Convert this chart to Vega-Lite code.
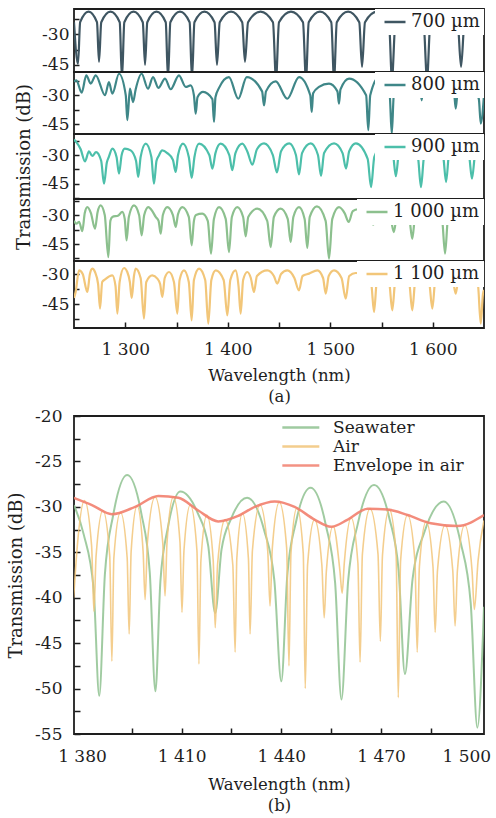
{
"$schema": "https://vega.github.io/schema/vega-lite/v6.json",
"background": "white",
"padding": {"left": 6, "top": 8, "right": 0, "bottom": 0},
"config": {
  "font": "DejaVu Serif",
  "view": {"stroke": "#1e1e1e", "strokeWidth": 1.8},
  "axis": {"labelFont": "DejaVu Serif", "titleFont": "DejaVu Serif", "labelColor": "#1e1e1e", "titleColor": "#1e1e1e", "tickColor": "#1e1e1e", "tickWidth": 1.5, "grid": false, "domain": false, "titleFontWeight": "normal", "labelFontSize": 17, "titleFontSize": 16.5, "labelFlush": false},
  "legend": {"labelFont": "DejaVu Serif", "labelColor": "#1e1e1e", "labelFontSize": 18, "labelFontWeight": "normal", "symbolType": "M-1,0H5", "symbolStrokeWidth": 2.5}
},
"datasets": {
"top": [
{"s":"700 µm","x":1250,"y":-24},{"s":"700 µm","x":1253.9,"y":-44.5},{"s":"700 µm","x":1256,"y":-24},{"s":"700 µm","x":1264.2,"y":-18.8},{"s":"700 µm","x":1272.4,"y":-24},{"s":"700 µm","x":1274.4,"y":-43.5},{"s":"700 µm","x":1276.6,"y":-24},{"s":"700 µm","x":1285.6,"y":-18.8},{"s":"700 µm","x":1294.6,"y":-24},{"s":"700 µm","x":1296.8,"y":-52},{"s":"700 µm","x":1299.1,"y":-24},{"s":"700 µm","x":1308.1,"y":-18.8},{"s":"700 µm","x":1317.1,"y":-24},{"s":"700 µm","x":1319.3,"y":-45},{"s":"700 µm","x":1321.5,"y":-24},{"s":"700 µm","x":1330.5,"y":-18.8},{"s":"700 µm","x":1339.5,"y":-24},{"s":"700 µm","x":1341.7,"y":-52},{"s":"700 µm","x":1344,"y":-24},{"s":"700 µm","x":1353.4,"y":-18.8},{"s":"700 µm","x":1362.8,"y":-24},{"s":"700 µm","x":1365.1,"y":-52},{"s":"700 µm","x":1367.5,"y":-24},{"s":"700 µm","x":1377.3,"y":-18.8},{"s":"700 µm","x":1387.1,"y":-24},{"s":"700 µm","x":1389.5,"y":-45},{"s":"700 µm","x":1392.2,"y":-24},{"s":"700 µm","x":1403.2,"y":-18.8},{"s":"700 µm","x":1414.1,"y":-24},{"s":"700 µm","x":1416.8,"y":-43.5},{"s":"700 µm","x":1419.8,"y":-24},{"s":"700 µm","x":1432,"y":-18.8},{"s":"700 µm","x":1444.1,"y":-24},{"s":"700 µm","x":1447.1,"y":-52},{"s":"700 µm","x":1450,"y":-24},{"s":"700 µm","x":1461.7,"y":-18.8},{"s":"700 µm","x":1473.4,"y":-24},{"s":"700 µm","x":1476.3,"y":-52},{"s":"700 µm","x":1479,"y":-24},{"s":"700 µm","x":1490,"y":-18.8},{"s":"700 µm","x":1501,"y":-24},{"s":"700 µm","x":1503.7,"y":-52},{"s":"700 µm","x":1506.4,"y":-24},{"s":"700 µm","x":1517.4,"y":-18.8},{"s":"700 µm","x":1528.3,"y":-24},{"s":"700 µm","x":1531,"y":-46},{"s":"700 µm","x":1533.9,"y":-24},{"s":"700 µm","x":1545.6,"y":-18.8},{"s":"700 µm","x":1557.3,"y":-24},{"s":"700 µm","x":1560.2,"y":-52},{"s":"700 µm","x":1563.6,"y":-24},{"s":"700 µm","x":1577.3,"y":-18.8},{"s":"700 µm","x":1591,"y":-24},{"s":"700 µm","x":1594.4,"y":-52},{"s":"700 µm","x":1597.7,"y":-24},{"s":"700 µm","x":1611,"y":-18.8},{"s":"700 µm","x":1624.3,"y":-24},{"s":"700 µm","x":1627.6,"y":-46},{"s":"700 µm","x":1631,"y":-24},{"s":"700 µm","x":1645,"y":-18.8},{"s":"700 µm","x":1650,"y":-19.5},
{"s":"800 µm","x":1250,"y":-23},{"s":"800 µm","x":1252.3,"y":-22.3},{"s":"800 µm","x":1257.5,"y":-28.7},{"s":"800 µm","x":1262,"y":-19.7},{"s":"800 µm","x":1266.3,"y":-24},{"s":"800 µm","x":1271.2,"y":-19.7},{"s":"800 µm","x":1280.3,"y":-30},{"s":"800 µm","x":1284.1,"y":-23.2},{"s":"800 µm","x":1287.4,"y":-29.2},{"s":"800 µm","x":1293.9,"y":-18.9},{"s":"800 µm","x":1300.5,"y":-30},{"s":"800 µm","x":1302,"y":-42.9},{"s":"800 µm","x":1304.6,"y":-26.6},{"s":"800 µm","x":1307.6,"y":-33.5},{"s":"800 µm","x":1310.2,"y":-26.9},{"s":"800 µm","x":1316,"y":-18.9},{"s":"800 µm","x":1322.2,"y":-26.6},{"s":"800 µm","x":1327.1,"y":-20.6},{"s":"800 µm","x":1332.3,"y":-26.2},{"s":"800 µm","x":1338.8,"y":-21.4},{"s":"800 µm","x":1344.3,"y":-26.9},{"s":"800 µm","x":1352.4,"y":-19.7},{"s":"800 µm","x":1359,"y":-25.7},{"s":"800 µm","x":1363.8,"y":-24.9},{"s":"800 µm","x":1367,"y":-30},{"s":"800 µm","x":1368.7,"y":-39.5},{"s":"800 µm","x":1370.5,"y":-31},{"s":"800 µm","x":1375.9,"y":-28.3},{"s":"800 µm","x":1385,"y":-32},{"s":"800 µm","x":1386.6,"y":-43.8},{"s":"800 µm","x":1388,"y":-31},{"s":"800 µm","x":1391.5,"y":-26.2},{"s":"800 µm","x":1401.2,"y":-20.6},{"s":"800 µm","x":1410.3,"y":-31.8},{"s":"800 µm","x":1418.5,"y":-20.6},{"s":"800 µm","x":1433.5,"y":-28},{"s":"800 µm","x":1435.4,"y":-35.2},{"s":"800 µm","x":1437.3,"y":-28},{"s":"800 µm","x":1446.8,"y":-22.8},{"s":"800 µm","x":1458.1,"y":-31.8},{"s":"800 µm","x":1469.5,"y":-20.6},{"s":"800 µm","x":1480.5,"y":-30},{"s":"800 µm","x":1481.9,"y":-38.6},{"s":"800 µm","x":1483.3,"y":-29},{"s":"800 µm","x":1489,"y":-25.7},{"s":"800 µm","x":1498.8,"y":-24},{"s":"800 µm","x":1507,"y":-28},{"s":"800 µm","x":1508.5,"y":-34.3},{"s":"800 µm","x":1510,"y":-27},{"s":"800 µm","x":1518.3,"y":-21.4},{"s":"800 µm","x":1535,"y":-30},{"s":"800 µm","x":1537.1,"y":-48},{"s":"800 µm","x":1539,"y":-30},{"s":"800 µm","x":1548,"y":-20.5},{"s":"800 µm","x":1558,"y":-30},{"s":"800 µm","x":1560,"y":-50},{"s":"800 µm","x":1562,"y":-30},{"s":"800 µm","x":1575,"y":-20.5},{"s":"800 µm","x":1587.5,"y":-25},{"s":"800 µm","x":1589.2,"y":-32.6},{"s":"800 µm","x":1591,"y":-25},{"s":"800 µm","x":1605,"y":-21},{"s":"800 µm","x":1620.5,"y":-27},{"s":"800 µm","x":1622.4,"y":-36.9},{"s":"800 µm","x":1624.5,"y":-27},{"s":"800 µm","x":1635,"y":-21},{"s":"800 µm","x":1645,"y":-32},{"s":"800 µm","x":1646.8,"y":-44.6},{"s":"800 µm","x":1650,"y":-30},
{"s":"900 µm","x":1250,"y":-22},{"s":"900 µm","x":1252.3,"y":-23.3},{"s":"900 µm","x":1256.5,"y":-27},{"s":"900 µm","x":1260.7,"y":-33.3},{"s":"900 µm","x":1264.6,"y":-28.1},{"s":"900 µm","x":1267.9,"y":-30.5},{"s":"900 µm","x":1271.5,"y":-28.5},{"s":"900 µm","x":1276.5,"y":-33},{"s":"900 µm","x":1279.3,"y":-44.9},{"s":"900 µm","x":1282,"y":-34},{"s":"900 µm","x":1284,"y":-31},{"s":"900 µm","x":1287.4,"y":-26.7},{"s":"900 µm","x":1291.5,"y":-31},{"s":"900 µm","x":1293.9,"y":-39.7},{"s":"900 µm","x":1296.5,"y":-30},{"s":"900 µm","x":1299.5,"y":-26.7},{"s":"900 µm","x":1305.3,"y":-27.6},{"s":"900 µm","x":1310.5,"y":-33},{"s":"900 µm","x":1312.7,"y":-41.4},{"s":"900 µm","x":1315,"y":-31},{"s":"900 µm","x":1320,"y":-24.1},{"s":"900 µm","x":1325.5,"y":-31},{"s":"900 µm","x":1328,"y":-44.9},{"s":"900 µm","x":1330.5,"y":-33},{"s":"900 µm","x":1332.9,"y":-30.2},{"s":"900 µm","x":1336,"y":-27.6},{"s":"900 µm","x":1341,"y":-29},{"s":"900 µm","x":1346.5,"y":-32.5},{"s":"900 µm","x":1349.2,"y":-38.8},{"s":"900 µm","x":1351.5,"y":-30},{"s":"900 µm","x":1356.3,"y":-24.1},{"s":"900 µm","x":1362,"y":-31},{"s":"900 µm","x":1364.8,"y":-41.9},{"s":"900 µm","x":1367.5,"y":-31},{"s":"900 µm","x":1372,"y":-24.1},{"s":"900 µm","x":1382,"y":-30},{"s":"900 µm","x":1385,"y":-37.1},{"s":"900 µm","x":1388,"y":-29},{"s":"900 µm","x":1393,"y":-24.1},{"s":"900 µm","x":1401.5,"y":-30},{"s":"900 µm","x":1404.4,"y":-37.9},{"s":"900 µm","x":1407.5,"y":-29},{"s":"900 µm","x":1414.2,"y":-24.1},{"s":"900 µm","x":1419,"y":-28},{"s":"900 µm","x":1424,"y":-35},{"s":"900 µm","x":1428.5,"y":-27},{"s":"900 µm","x":1435.4,"y":-24},{"s":"900 µm","x":1444,"y":-30},{"s":"900 µm","x":1448,"y":-39},{"s":"900 µm","x":1452,"y":-28},{"s":"900 µm","x":1460,"y":-24},{"s":"900 µm","x":1466.5,"y":-30},{"s":"900 µm","x":1469.5,"y":-40},{"s":"900 µm","x":1472.5,"y":-29},{"s":"900 µm","x":1481,"y":-24},{"s":"900 µm","x":1488,"y":-30},{"s":"900 µm","x":1491,"y":-40.8},{"s":"900 µm","x":1494,"y":-29},{"s":"900 µm","x":1503.7,"y":-24},{"s":"900 µm","x":1512,"y":-29},{"s":"900 µm","x":1515.4,"y":-37},{"s":"900 µm","x":1518.5,"y":-28},{"s":"900 µm","x":1525,"y":-24},{"s":"900 µm","x":1536.5,"y":-32},{"s":"900 µm","x":1539.8,"y":-46.6},{"s":"900 µm","x":1543,"y":-31},{"s":"900 µm","x":1552.4,"y":-24},{"s":"900 µm","x":1561,"y":-29},{"s":"900 µm","x":1564,"y":-41},{"s":"900 µm","x":1567,"y":-29},{"s":"900 µm","x":1576.8,"y":-24},{"s":"900 µm","x":1585.5,"y":-31},{"s":"900 µm","x":1588.5,"y":-46.6},{"s":"900 µm","x":1591.5,"y":-31},{"s":"900 µm","x":1601,"y":-24},{"s":"900 µm","x":1610,"y":-30},{"s":"900 µm","x":1613,"y":-44},{"s":"900 µm","x":1616,"y":-29},{"s":"900 µm","x":1625.6,"y":-24},{"s":"900 µm","x":1635.3,"y":-30},{"s":"900 µm","x":1638.3,"y":-42.3},{"s":"900 µm","x":1641.3,"y":-30},{"s":"900 µm","x":1650,"y":-24.5},
{"s":"1 000 µm","x":1250,"y":-33},{"s":"1 000 µm","x":1252.3,"y":-34.5},{"s":"1 000 µm","x":1255,"y":-33.5},{"s":"1 000 µm","x":1258.1,"y":-38.4},{"s":"1 000 µm","x":1260.5,"y":-29},{"s":"1 000 µm","x":1263,"y":-25.9},{"s":"1 000 µm","x":1266.5,"y":-29},{"s":"1 000 µm","x":1270.5,"y":-37.1},{"s":"1 000 µm","x":1273,"y":-28.5},{"s":"1 000 µm","x":1276,"y":-25},{"s":"1 000 µm","x":1280,"y":-30},{"s":"1 000 µm","x":1283.5,"y":-51.8},{"s":"1 000 µm","x":1285.5,"y":-33},{"s":"1 000 µm","x":1287.4,"y":-31},{"s":"1 000 µm","x":1293.3,"y":-30.2},{"s":"1 000 µm","x":1297.1,"y":-28.4},{"s":"1 000 µm","x":1299.5,"y":-32},{"s":"1 000 µm","x":1301.3,"y":-43.1},{"s":"1 000 µm","x":1303.5,"y":-31},{"s":"1 000 µm","x":1308.5,"y":-25},{"s":"1 000 µm","x":1313.5,"y":-30},{"s":"1 000 µm","x":1316,"y":-40.5},{"s":"1 000 µm","x":1318.5,"y":-30},{"s":"1 000 µm","x":1322.5,"y":-25.9},{"s":"1 000 µm","x":1327,"y":-28.5},{"s":"1 000 µm","x":1329.7,"y":-31},{"s":"1 000 µm","x":1332.5,"y":-33},{"s":"1 000 µm","x":1334.6,"y":-39.7},{"s":"1 000 µm","x":1336.7,"y":-30},{"s":"1 000 µm","x":1341,"y":-25.9},{"s":"1 000 µm","x":1346.5,"y":-30},{"s":"1 000 µm","x":1349.2,"y":-36.2},{"s":"1 000 µm","x":1351.5,"y":-29.5},{"s":"1 000 µm","x":1355.7,"y":-25.9},{"s":"1 000 µm","x":1362,"y":-31},{"s":"1 000 µm","x":1364.8,"y":-45.7},{"s":"1 000 µm","x":1367,"y":-33},{"s":"1 000 µm","x":1369,"y":-30},{"s":"1 000 µm","x":1375.2,"y":-29.3},{"s":"1 000 µm","x":1380.5,"y":-33},{"s":"1 000 µm","x":1383.7,"y":-50},{"s":"1 000 µm","x":1386.5,"y":-32},{"s":"1 000 µm","x":1391.5,"y":-25.9},{"s":"1 000 µm","x":1398,"y":-32},{"s":"1 000 µm","x":1401.2,"y":-49.2},{"s":"1 000 µm","x":1404,"y":-31},{"s":"1 000 µm","x":1409.3,"y":-25.9},{"s":"1 000 µm","x":1415,"y":-31},{"s":"1 000 µm","x":1417.5,"y":-41},{"s":"1 000 µm","x":1420,"y":-31},{"s":"1 000 µm","x":1428.8,"y":-26.7},{"s":"1 000 µm","x":1438.5,"y":-33},{"s":"1 000 µm","x":1441.9,"y":-46.6},{"s":"1 000 µm","x":1445,"y":-31},{"s":"1 000 µm","x":1451.6,"y":-26.7},{"s":"1 000 µm","x":1458.5,"y":-32},{"s":"1 000 µm","x":1461.4,"y":-44},{"s":"1 000 µm","x":1464,"y":-31},{"s":"1 000 µm","x":1469.5,"y":-25.9},{"s":"1 000 µm","x":1475,"y":-32},{"s":"1 000 µm","x":1477.6,"y":-47},{"s":"1 000 µm","x":1480,"y":-31},{"s":"1 000 µm","x":1487,"y":-25.5},{"s":"1 000 µm","x":1495.5,"y":-33},{"s":"1 000 µm","x":1498.8,"y":-52.6},{"s":"1 000 µm","x":1502,"y":-32},{"s":"1 000 µm","x":1508.5,"y":-25.9},{"s":"1 000 µm","x":1514,"y":-29},{"s":"1 000 µm","x":1518,"y":-33.6},{"s":"1 000 µm","x":1522,"y":-28},{"s":"1 000 µm","x":1527,"y":-27},{"s":"1 000 µm","x":1535,"y":-29},{"s":"1 000 µm","x":1542,"y":-35},{"s":"1 000 µm","x":1550,"y":-26},{"s":"1 000 µm","x":1559,"y":-32},{"s":"1 000 µm","x":1562,"y":-38.8},{"s":"1 000 µm","x":1565,"y":-30},{"s":"1 000 µm","x":1571,"y":-26},{"s":"1 000 µm","x":1577,"y":-31},{"s":"1 000 µm","x":1580,"y":-42.3},{"s":"1 000 µm","x":1583,"y":-30},{"s":"1 000 µm","x":1595,"y":-26},{"s":"1 000 µm","x":1609,"y":-32},{"s":"1 000 µm","x":1612,"y":-50},{"s":"1 000 µm","x":1615,"y":-31},{"s":"1 000 µm","x":1630,"y":-26},{"s":"1 000 µm","x":1645,"y":-30},{"s":"1 000 µm","x":1650,"y":-28},
{"s":"1 100 µm","x":1250,"y":-42},{"s":"1 100 µm","x":1251.6,"y":-39},{"s":"1 100 µm","x":1254.9,"y":-28.2},{"s":"1 100 µm","x":1258.5,"y":-30},{"s":"1 100 µm","x":1263,"y":-39},{"s":"1 100 µm","x":1265.5,"y":-30},{"s":"1 100 µm","x":1267.9,"y":-27.3},{"s":"1 100 µm","x":1270.5,"y":-29},{"s":"1 100 µm","x":1273.5,"y":-35},{"s":"1 100 µm","x":1275.4,"y":-47.3},{"s":"1 100 µm","x":1277.5,"y":-34},{"s":"1 100 µm","x":1280.3,"y":-32.7},{"s":"1 100 µm","x":1287.4,"y":-30.7},{"s":"1 100 µm","x":1290.5,"y":-36},{"s":"1 100 µm","x":1292.3,"y":-49.8},{"s":"1 100 µm","x":1294.5,"y":-34},{"s":"1 100 µm","x":1298.8,"y":-27},{"s":"1 100 µm","x":1302,"y":-29},{"s":"1 100 µm","x":1304.5,"y":-34},{"s":"1 100 µm","x":1306.3,"y":-42},{"s":"1 100 µm","x":1308.5,"y":-31},{"s":"1 100 µm","x":1310.2,"y":-27.3},{"s":"1 100 µm","x":1315,"y":-32},{"s":"1 100 µm","x":1318.3,"y":-52.3},{"s":"1 100 µm","x":1320.5,"y":-34},{"s":"1 100 µm","x":1326.4,"y":-30.7},{"s":"1 100 µm","x":1331.3,"y":-32.3},{"s":"1 100 µm","x":1334,"y":-35},{"s":"1 100 µm","x":1336.2,"y":-41.5},{"s":"1 100 µm","x":1338.5,"y":-32},{"s":"1 100 µm","x":1342.7,"y":-29},{"s":"1 100 µm","x":1347.5,"y":-34},{"s":"1 100 µm","x":1350.8,"y":-49.8},{"s":"1 100 µm","x":1353,"y":-33},{"s":"1 100 µm","x":1357.3,"y":-28.2},{"s":"1 100 µm","x":1362,"y":-34},{"s":"1 100 µm","x":1364.8,"y":-53.2},{"s":"1 100 µm","x":1367,"y":-33},{"s":"1 100 µm","x":1372,"y":-27.3},{"s":"1 100 µm","x":1378,"y":-33},{"s":"1 100 µm","x":1381,"y":-54.8},{"s":"1 100 µm","x":1384,"y":-33},{"s":"1 100 µm","x":1388.3,"y":-28.2},{"s":"1 100 µm","x":1396,"y":-33},{"s":"1 100 µm","x":1399.6,"y":-50.7},{"s":"1 100 µm","x":1402.5,"y":-33},{"s":"1 100 µm","x":1407.6,"y":-28.2},{"s":"1 100 µm","x":1410.5,"y":-36},{"s":"1 100 µm","x":1412.6,"y":-49.8},{"s":"1 100 µm","x":1415,"y":-33},{"s":"1 100 µm","x":1419.1,"y":-29},{"s":"1 100 µm","x":1422.5,"y":-32},{"s":"1 100 µm","x":1425.6,"y":-39},{"s":"1 100 µm","x":1428.5,"y":-31},{"s":"1 100 µm","x":1438.6,"y":-28.2},{"s":"1 100 µm","x":1445,"y":-31},{"s":"1 100 µm","x":1448.3,"y":-34.8},{"s":"1 100 µm","x":1452,"y":-30},{"s":"1 100 µm","x":1458.1,"y":-28.2},{"s":"1 100 µm","x":1465,"y":-32},{"s":"1 100 µm","x":1469.5,"y":-38.2},{"s":"1 100 µm","x":1473,"y":-31},{"s":"1 100 µm","x":1479.3,"y":-29.8},{"s":"1 100 µm","x":1487.4,"y":-28.2},{"s":"1 100 µm","x":1493,"y":-32},{"s":"1 100 µm","x":1495.6,"y":-39.8},{"s":"1 100 µm","x":1498.5,"y":-31},{"s":"1 100 µm","x":1503.7,"y":-28.2},{"s":"1 100 µm","x":1511,"y":-32},{"s":"1 100 µm","x":1515.1,"y":-42.3},{"s":"1 100 µm","x":1518.5,"y":-31},{"s":"1 100 µm","x":1524.8,"y":-29.5},{"s":"1 100 µm","x":1532.9,"y":-29.8},{"s":"1 100 µm","x":1540,"y":-35},{"s":"1 100 µm","x":1542.7,"y":-49},{"s":"1 100 µm","x":1545.5,"y":-33},{"s":"1 100 µm","x":1551,"y":-28.5},{"s":"1 100 µm","x":1557.5,"y":-34},{"s":"1 100 µm","x":1560.5,"y":-48.2},{"s":"1 100 µm","x":1563.5,"y":-33},{"s":"1 100 µm","x":1570,"y":-28.5},{"s":"1 100 µm","x":1577,"y":-34},{"s":"1 100 µm","x":1580,"y":-48.2},{"s":"1 100 µm","x":1583,"y":-33},{"s":"1 100 µm","x":1590,"y":-28.5},{"s":"1 100 µm","x":1596.5,"y":-34},{"s":"1 100 µm","x":1599.6,"y":-47.3},{"s":"1 100 µm","x":1602.5,"y":-33},{"s":"1 100 µm","x":1611,"y":-28.5},{"s":"1 100 µm","x":1619.5,"y":-33},{"s":"1 100 µm","x":1622.4,"y":-39.8},{"s":"1 100 µm","x":1625.5,"y":-31},{"s":"1 100 µm","x":1635,"y":-28.5},{"s":"1 100 µm","x":1644,"y":-35},{"s":"1 100 µm","x":1646.8,"y":-54.8},{"s":"1 100 µm","x":1649,"y":-40},{"s":"1 100 µm","x":1650,"y":-38}
],
"bot": [
{"s":"Seawater","x":1377.6,"y":-29.8},{"s":"Seawater","x":1380.5,"y":-33},{"s":"Seawater","x":1383.5,"y":-39},{"s":"Seawater","x":1385.2,"y":-50.8},{"s":"Seawater","x":1386.9,"y":-37.4},{"s":"Seawater","x":1389.4,"y":-30.9},{"s":"Seawater","x":1393.6,"y":-26.5},{"s":"Seawater","x":1397.9,"y":-30.8},{"s":"Seawater","x":1400.4,"y":-37.2},{"s":"Seawater","x":1402.1,"y":-50.3},{"s":"Seawater","x":1403.6,"y":-38.2},{"s":"Seawater","x":1405.85,"y":-32.3},{"s":"Seawater","x":1409.6,"y":-28.3},{"s":"Seawater","x":1414.85,"y":-30.7},{"s":"Seawater","x":1418,"y":-34.3},{"s":"Seawater","x":1420.1,"y":-41.7},{"s":"Seawater","x":1422,"y":-34.7},{"s":"Seawater","x":1424.9,"y":-31.3},{"s":"Seawater","x":1429.7,"y":-29},{"s":"Seawater","x":1434.85,"y":-32.6},{"s":"Seawater","x":1437.9,"y":-38.1},{"s":"Seawater","x":1440,"y":-49.2},{"s":"Seawater","x":1441.8,"y":-37.5},{"s":"Seawater","x":1444.4,"y":-31.7},{"s":"Seawater","x":1448.8,"y":-27.9},{"s":"Seawater","x":1453.45,"y":-32.1},{"s":"Seawater","x":1456.2,"y":-38.4},{"s":"Seawater","x":1458.1,"y":-51.2},{"s":"Seawater","x":1460.1,"y":-38.2},{"s":"Seawater","x":1463,"y":-31.9},{"s":"Seawater","x":1467.9,"y":-27.6},{"s":"Seawater","x":1472.55,"y":-31.3},{"s":"Seawater","x":1475.3,"y":-37},{"s":"Seawater","x":1477.2,"y":-48.4},{"s":"Seawater","x":1479.5,"y":-37.95},{"s":"Seawater","x":1483.05,"y":-32.8},{"s":"Seawater","x":1488.9,"y":-29.4},{"s":"Seawater","x":1493.95,"y":-33.9},{"s":"Seawater","x":1497,"y":-40.6},{"s":"Seawater","x":1499,"y":-54.3},{"s":"Seawater","x":1501,"y":-41},
{"s":"Air","x":1377.5,"y":-40},{"s":"Air","x":1378.6,"y":-34.3},{"s":"Air","x":1380.75,"y":-29.3},{"s":"Air","x":1382.9,"y":-34.3},{"s":"Air","x":1383.6,"y":-41.5},{"s":"Air","x":1384.25,"y":-35.4},{"s":"Air","x":1386.3,"y":-30.4},{"s":"Air","x":1388.35,"y":-35.4},{"s":"Air","x":1389,"y":-47},{"s":"Air","x":1389.6,"y":-35.6},{"s":"Air","x":1391.6,"y":-30.6},{"s":"Air","x":1393.6,"y":-35.6},{"s":"Air","x":1394.2,"y":-44},{"s":"Air","x":1394.8,"y":-34.9},{"s":"Air","x":1396.6,"y":-29.9},{"s":"Air","x":1398.4,"y":-34.9},{"s":"Air","x":1399,"y":-40.2},{"s":"Air","x":1399.7,"y":-33.9},{"s":"Air","x":1402,"y":-28.9},{"s":"Air","x":1404.3,"y":-33.9},{"s":"Air","x":1405,"y":-39.8},{"s":"Air","x":1405.6,"y":-33.9},{"s":"Air","x":1407.5,"y":-28.9},{"s":"Air","x":1409.5,"y":-33.9},{"s":"Air","x":1410.1,"y":-41.6},{"s":"Air","x":1410.7,"y":-34.8},{"s":"Air","x":1412.6,"y":-29.8},{"s":"Air","x":1414.6,"y":-34.8},{"s":"Air","x":1415.2,"y":-47.3},{"s":"Air","x":1415.8,"y":-35.9},{"s":"Air","x":1417.6,"y":-30.9},{"s":"Air","x":1419.5,"y":-35.9},{"s":"Air","x":1420.1,"y":-43.3},{"s":"Air","x":1420.8,"y":-36.4},{"s":"Air","x":1423.1,"y":-31.4},{"s":"Air","x":1425.4,"y":-36.4},{"s":"Air","x":1426.1,"y":-46},{"s":"Air","x":1426.6,"y":-35.7},{"s":"Air","x":1428.3,"y":-30.7},{"s":"Air","x":1430.1,"y":-35.7},{"s":"Air","x":1430.6,"y":-44},{"s":"Air","x":1431.3,"y":-34.8},{"s":"Air","x":1433.6,"y":-29.8},{"s":"Air","x":1435.9,"y":-34.8},{"s":"Air","x":1436.6,"y":-40.9},{"s":"Air","x":1437.3,"y":-34.5},{"s":"Air","x":1439.4,"y":-29.5},{"s":"Air","x":1441.6,"y":-34.5},{"s":"Air","x":1442.3,"y":-47.5},{"s":"Air","x":1442.9,"y":-35.1},{"s":"Air","x":1444.7,"y":-30.1},{"s":"Air","x":1446.6,"y":-35.1},{"s":"Air","x":1447.2,"y":-50},{"s":"Air","x":1447.9,"y":-36.4},{"s":"Air","x":1450,"y":-31.4},{"s":"Air","x":1452.2,"y":-36.4},{"s":"Air","x":1452.9,"y":-42.2},{"s":"Air","x":1453.55,"y":-37.1},{"s":"Air","x":1455.6,"y":-32.1},{"s":"Air","x":1457.65,"y":-37.1},{"s":"Air","x":1458.3,"y":-39.5},{"s":"Air","x":1458.95,"y":-36.2},{"s":"Air","x":1461,"y":-31.2},{"s":"Air","x":1463.05,"y":-36.2},{"s":"Air","x":1463.7,"y":-47.1},{"s":"Air","x":1464.4,"y":-35.2},{"s":"Air","x":1466.7,"y":-30.2},{"s":"Air","x":1469.1,"y":-35.2},{"s":"Air","x":1469.8,"y":-44.8},{"s":"Air","x":1470.45,"y":-35.3},{"s":"Air","x":1472.5,"y":-30.3},{"s":"Air","x":1474.55,"y":-35.3},{"s":"Air","x":1475.2,"y":-51},{"s":"Air","x":1475.9,"y":-35.9},{"s":"Air","x":1478,"y":-30.9},{"s":"Air","x":1480.2,"y":-35.9},{"s":"Air","x":1480.9,"y":-46},{"s":"Air","x":1481.55,"y":-36.6},{"s":"Air","x":1483.6,"y":-31.6},{"s":"Air","x":1485.65,"y":-36.6},{"s":"Air","x":1486.3,"y":-43.8},{"s":"Air","x":1487,"y":-37},{"s":"Air","x":1489.3,"y":-32},{"s":"Air","x":1491.6,"y":-37},{"s":"Air","x":1492.3,"y":-43.1},{"s":"Air","x":1493,"y":-37},{"s":"Air","x":1495.2,"y":-32},{"s":"Air","x":1497.4,"y":-37},{"s":"Air","x":1498.1,"y":-41.3},{"s":"Air","x":1499.2,"y":-36},{"s":"Air","x":1501,"y":-31.5},
{"s":"Envelope in air","x":1377.5,"y":-29},{"s":"Envelope in air","x":1383,"y":-29.8},{"s":"Envelope in air","x":1389,"y":-30.8},{"s":"Envelope in air","x":1396,"y":-30},{"s":"Envelope in air","x":1403,"y":-28.8},{"s":"Envelope in air","x":1409,"y":-29},{"s":"Envelope in air","x":1415,"y":-30.4},{"s":"Envelope in air","x":1421,"y":-31.6},{"s":"Envelope in air","x":1427,"y":-31},{"s":"Envelope in air","x":1432,"y":-30},{"s":"Envelope in air","x":1438,"y":-29.4},{"s":"Envelope in air","x":1444,"y":-30},{"s":"Envelope in air","x":1450,"y":-31.4},{"s":"Envelope in air","x":1455,"y":-32.2},{"s":"Envelope in air","x":1460,"y":-31.4},{"s":"Envelope in air","x":1466,"y":-30.2},{"s":"Envelope in air","x":1472,"y":-30.3},{"s":"Envelope in air","x":1478,"y":-30.9},{"s":"Envelope in air","x":1485,"y":-31.8},{"s":"Envelope in air","x":1493,"y":-32.1},{"s":"Envelope in air","x":1501,"y":-30.9}
]
},
"resolve": {"scale": {"x": "independent", "y": "independent", "color": "independent"}, "legend": {"color": "independent"}},
"bounds": "flush",
"spacing": 0,
"vconcat": [
{
 "width": 410, "height": 63,
 "data": {"name": "top"},
 "transform": [{"filter": "datum.s === '700 µm'"}],
 "mark": {"type": "line", "clip": true, "interpolate": "monotone", "strokeWidth": 2.2},
 "encoding": {
  "x": {"field": "x", "type": "quantitative", "scale": {"domain": [1250, 1650], "nice": false, "zero": false}, "axis": null},
  "y": {"field": "y", "type": "quantitative", "scale": {"domain": [-48.5, -17.5], "nice": false, "zero": false},
        "axis": {"values": [-45, -37.5, -30, -22.5], "labelExpr": "datum.value % 15 === 0 ? '-' + abs(datum.value) : ''", "title": null, "tickSize": -5, "labelPadding": 10}},
  "color": {"field": "s", "type": "nominal", "scale": {"domain": ["700 µm"], "range": ["#3f5662"]},
            "legend": {"title": null, "orient": "top-right", "offset": 0, "fillColor": "white", "padding": 4, "symbolSize": 49, "labelOffset": 14}}
 }
},
{
 "width": 410, "height": 62,
 "data": {"name": "top"},
 "transform": [{"filter": "datum.s === '800 µm'"}],
 "mark": {"type": "line", "clip": true, "interpolate": "monotone", "strokeWidth": 2.2},
 "encoding": {
  "x": {"field": "x", "type": "quantitative", "scale": {"domain": [1250, 1650], "nice": false, "zero": false}, "axis": null},
  "y": {"field": "y", "type": "quantitative", "scale": {"domain": [-50, -18], "nice": false, "zero": false},
        "axis": {"values": [-45, -37.5, -30, -22.5], "labelExpr": "datum.value % 15 === 0 ? '-' + abs(datum.value) : ''", "title": null, "tickSize": -5, "labelPadding": 10}},
  "color": {"field": "s", "type": "nominal", "scale": {"domain": ["800 µm"], "range": ["#3f8788"]},
            "legend": {"title": null, "orient": "top-right", "offset": 0, "fillColor": "white", "padding": 4, "symbolSize": 49, "labelOffset": 14}}
 }
},
{
 "width": 410, "height": 65,
 "data": {"name": "top"},
 "transform": [{"filter": "datum.s === '900 µm'"}],
 "mark": {"type": "line", "clip": true, "interpolate": "monotone", "strokeWidth": 2.2},
 "encoding": {
  "x": {"field": "x", "type": "quantitative", "scale": {"domain": [1250, 1650], "nice": false, "zero": false}, "axis": null},
  "y": {"field": "y", "type": "quantitative", "scale": {"domain": [-52.8, -19.1], "nice": false, "zero": false},
        "axis": {"values": [-52.5, -45, -37.5, -30, -22.5], "labelExpr": "datum.value % 15 === 0 ? '-' + abs(datum.value) : ''", "title": "Transmission (dB)", "titleFontSize": 18, "titlePadding": 8, "tickSize": -5, "labelPadding": 10}},
  "color": {"field": "s", "type": "nominal", "scale": {"domain": ["900 µm"], "range": ["#4cbfaa"]},
            "legend": {"title": null, "orient": "top-right", "offset": 0, "fillColor": "white", "padding": 4, "symbolSize": 49, "labelOffset": 14}}
 }
},
{
 "width": 410, "height": 62,
 "data": {"name": "top"},
 "transform": [{"filter": "datum.s === '1 000 µm'"}],
 "mark": {"type": "line", "clip": true, "interpolate": "monotone", "strokeWidth": 2.2},
 "encoding": {
  "x": {"field": "x", "type": "quantitative", "scale": {"domain": [1250, 1650], "nice": false, "zero": false}, "axis": null},
  "y": {"field": "y", "type": "quantitative", "scale": {"domain": [-53.8, -21.7], "nice": false, "zero": false},
        "axis": {"values": [-52.5, -45, -37.5, -30, -22.5], "labelExpr": "datum.value % 15 === 0 ? '-' + abs(datum.value) : ''", "title": null, "tickSize": -5, "labelPadding": 10}},
  "color": {"field": "s", "type": "nominal", "scale": {"domain": ["1 000 µm"], "range": ["#8cc08e"]},
            "legend": {"title": null, "orient": "top-right", "offset": 0, "fillColor": "white", "padding": 4, "symbolSize": 49, "labelOffset": 14}}
 }
},
{
 "width": 410, "height": 67,
 "data": {"name": "top"},
 "transform": [{"filter": "datum.s === '1 100 µm'"}],
 "mark": {"type": "line", "clip": true, "interpolate": "monotone", "strokeWidth": 2.2},
 "encoding": {
  "x": {"field": "x", "type": "quantitative", "scale": {"domain": [1250, 1650], "nice": false, "zero": false},
        "axis": {"values": [1300, 1350, 1400, 1450, 1500, 1550, 1600], "labelExpr": "datum.value % 100 === 0 ? floor(datum.value / 1000) + ' ' + format(datum.value % 1000, '03d') : ''", "title": ["Wavelength (nm)", "(a)"], "titleLineHeight": 21, "titlePadding": 10, "tickSize": -6, "labelPadding": 19}},
  "y": {"field": "y", "type": "quantitative", "scale": {"domain": [-57, -23.5], "nice": false, "zero": false},
        "axis": {"values": [-52.5, -45, -37.5, -30], "labelExpr": "datum.value % 15 === 0 ? '-' + abs(datum.value) : ''", "title": null, "tickSize": -5, "labelPadding": 10}},
  "color": {"field": "s", "type": "nominal", "scale": {"domain": ["1 100 µm"], "range": ["#f2c679"]},
            "legend": {"title": null, "orient": "top-right", "offset": 0, "fillColor": "white", "padding": 4, "symbolSize": 49, "labelOffset": 14}}
 }
},
{
 "width": 410, "height": 88,
 "data": {"values": [{"a": 1}]},
 "mark": {"type": "point", "opacity": 0},
 "view": {"stroke": null}
},
{
 "width": 410, "height": 318,
 "data": {"name": "bot"},
 "encoding": {
  "x": {"field": "x", "type": "quantitative", "scale": {"domain": [1377.6, 1501], "nice": false, "zero": false},
        "axis": {"values": [1380, 1395, 1410, 1425, 1440, 1455, 1470, 1485, 1500], "labelExpr": "datum.value % 30 === 0 ? floor(datum.value / 1000) + ' ' + format(datum.value % 1000, '03d') : ''", "title": ["Wavelength (nm)", "(b)"], "titleLineHeight": 21, "titlePadding": 12, "tickSize": -6, "labelPadding": 20, "labelFlush": 5, "labelFlushOffset": 10, "tickOpacity": {"condition": {"test": "datum.value === 1380 || datum.value === 1500", "value": 0}, "value": 1}}},
  "y": {"field": "y", "type": "quantitative", "scale": {"domain": [-55, -20], "nice": false, "zero": false},
        "axis": {"values": [-55, -52.5, -50, -47.5, -45, -42.5, -40, -37.5, -35, -32.5, -30, -27.5, -25, -22.5, -20], "labelExpr": "datum.value % 5 === 0 ? '-' + abs(datum.value) : ''", "title": "Transmission (dB)", "titleFontSize": 18, "titlePadding": 9, "tickSize": -6, "labelPadding": 18}},
  "color": {"field": "s", "type": "nominal", "scale": {"domain": ["Seawater", "Air", "Envelope in air"], "range": ["#8fc290", "#f2c57a", "#f27f6e"]},
            "legend": {"title": null, "orient": "none", "legendX": 206, "legendY": 3, "padding": 0, "symbolSize": 152, "labelOffset": 36, "rowPadding": 1, "labelFontSize": 17}}
 },
 "layer": [
  {"transform": [{"filter": "datum.s === 'Seawater'"}], "mark": {"type": "line", "clip": true, "interpolate": "monotone", "strokeWidth": 2, "opacity": 0.85}},
  {"transform": [{"filter": "datum.s === 'Air'"}], "mark": {"type": "line", "clip": true, "interpolate": "monotone", "strokeWidth": 1.6, "opacity": 0.85}},
  {"transform": [{"filter": "datum.s === 'Envelope in air'"}], "mark": {"type": "line", "clip": true, "interpolate": "monotone", "strokeWidth": 2.5, "opacity": 0.9}}
 ]
}
]
}
